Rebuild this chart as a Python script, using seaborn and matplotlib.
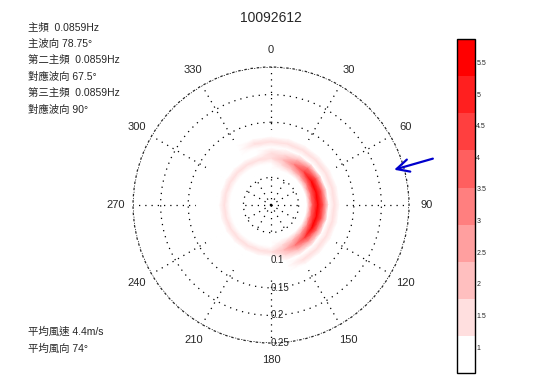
import numpy as np
import matplotlib
matplotlib.use("Agg")
import matplotlib.pyplot as plt
from matplotlib.colors import ListedColormap, Normalize
import seaborn as sns

# wave spectrum (colorbar units)
directions = [0, 15, 30, 45, 60, 75, 90, 105, 120, 135, 150, 165,
              180, 195, 210, 225, 240, 255, 270, 285, 300, 315, 330, 345]
freqs = [0.055, 0.065, 0.075, 0.085, 0.095, 0.105, 0.115, 0.125, 0.135]
energy = [
    [0.3, 0.6, 1.0, 1.7, 1.2, 0.9, 1.5, 0.8, 0.3],
    [0.3, 0.6, 1.3, 2.2, 1.5, 1.0, 1.6, 0.8, 0.3],
    [0.3, 0.7, 1.9, 3.2, 2.2, 1.0, 1.6, 0.8, 0.3],
    [0.3, 0.9, 2.8, 4.6, 3.0, 1.0, 1.6, 0.8, 0.3],
    [0.3, 1.0, 3.5, 5.6, 3.6, 1.0, 1.6, 0.8, 0.3],
    [0.3, 1.1, 3.8, 5.9, 3.9, 1.0, 1.6, 0.8, 0.3],
    [0.3, 1.1, 3.8, 5.9, 3.9, 1.0, 1.6, 0.8, 0.3],
    [0.3, 1.1, 3.7, 5.8, 3.7, 1.0, 1.6, 0.8, 0.3],
    [0.3, 1.0, 3.3, 5.3, 3.3, 1.0, 1.5, 0.8, 0.3],
    [0.3, 0.9, 2.6, 4.3, 2.6, 0.9, 1.4, 0.7, 0.3],
    [0.3, 0.8, 1.9, 3.2, 1.9, 0.9, 1.2, 0.6, 0.3],
    [0.3, 0.7, 1.4, 2.1, 1.4, 0.8, 1.0, 0.5, 0.3],
    [0.3, 0.6, 1.0, 1.4, 1.0, 0.6, 0.7, 0.4, 0.3],
    [0.3, 0.5, 0.9, 1.2, 0.9, 0.5, 0.5, 0.4, 0.3],
    [0.3, 0.5, 0.9, 1.2, 0.9, 0.5, 0.5, 0.4, 0.3],
    [0.3, 0.5, 0.9, 1.2, 0.9, 0.5, 0.5, 0.4, 0.3],
    [0.3, 0.5, 0.9, 1.2, 0.9, 0.5, 0.5, 0.4, 0.3],
    [0.3, 0.5, 0.9, 1.2, 0.9, 0.5, 0.5, 0.4, 0.3],
    [0.3, 0.5, 0.9, 1.2, 0.9, 0.5, 0.5, 0.4, 0.3],
    [0.3, 0.5, 0.9, 1.2, 0.9, 0.5, 0.5, 0.4, 0.3],
    [0.3, 0.5, 0.9, 1.2, 0.9, 0.5, 0.5, 0.4, 0.3],
    [0.3, 0.5, 0.9, 1.2, 0.9, 0.5, 0.5, 0.4, 0.3],
    [0.3, 0.5, 0.9, 1.3, 1.0, 0.7, 1.1, 0.6, 0.3],
    [0.3, 0.6, 1.0, 1.5, 1.1, 0.8, 1.3, 0.7, 0.3],
]

title = "10092612"
info_lines = ["主頻  0.0859Hz", "主波向 78.75°", "第二主頻  0.0859Hz",
              "對應波向 67.5°", "第三主頻  0.0859Hz", "對應波向 90°"]
wind_lines = ["平均風速 4.4m/s", "平均風向 74°"]
wind_dir = 74
theta_ticks = list(range(0, 360, 30))
r_ticks = [0.05, 0.1, 0.15, 0.2, 0.25]
r_labels = ["", "0.1", "0.15", "0.2", "0.25"]
cbar_ticks = [1, 1.5, 2, 2.5, 3, 3.5, 4, 4.5, 5, 5.5]
vmin, vmax = 0.59, 5.87

sns.set_style("white")
plt.rcParams["font.family"] = ["Liberation Sans", "Noto Sans CJK TC", "DejaVu Sans"]

fig = plt.figure(figsize=(5.33, 3.82), dpi=100)
ax = fig.add_axes([0.2495, 0.102, 0.518, 0.7225], projection="polar")
ax.set_theta_zero_location("N")
ax.set_theta_direction(-1)

# close the ring so the mesh wraps around
th = np.deg2rad(directions + [360])
E = np.array(energy + [energy[0]])
T, R = np.meshgrid(th, freqs, indexing="ij")
cmap = ListedColormap(sns.blend_palette(["white", "red"], 9))
mesh = ax.pcolormesh(T, R, E, cmap=cmap, norm=Normalize(vmin, vmax),
                     shading="gouraud")

ax.set_ylim(0, 0.25)
ax.set_yticks(r_ticks)
ax.set_yticklabels([])
for r, lab in zip(r_ticks, r_labels):
    ax.text(np.pi, r, lab, ha="left", va="center", fontsize=7)
ax.set_thetagrids(theta_ticks, [str(t) for t in theta_ticks], fontsize=8)
ax.tick_params(axis="x", pad=2)
ax.grid(True, color="k", linestyle=(0, (1, 4)), linewidth=0.9)
ax.spines["polar"].set_linestyle((0, (1, 4)))
ax.spines["polar"].set_linewidth(0.9)

ax.annotate("", xy=(np.deg2rad(wind_dir), 0.227),
            xytext=(np.deg2rad(wind_dir), 0.31),
            arrowprops=dict(arrowstyle="->,head_length=0.9,head_width=0.45",
                            color="#0000cc", lw=1.6),
            annotation_clip=False)

fig.text(0.508, 0.953, title, ha="center", va="center", fontsize=10)
for i, line in enumerate(info_lines):
    fig.text(0.052, 0.929 - i * 0.0432, line, ha="left", va="center", fontsize=7.5)
for i, line in enumerate(wind_lines):
    fig.text(0.052, 0.131 - i * 0.0445, line, ha="left", va="center", fontsize=7.5)

cax = fig.add_axes([0.857, 0.0236, 0.034, 0.874])
cb = fig.colorbar(mesh, cax=cax, ticks=cbar_ticks)
cb.ax.set_yticklabels([f"{t:g}" for t in cbar_ticks])
cb.ax.tick_params(direction="in", length=3, left=True, right=True,
                  labelsize=5, pad=1)
cb.outline.set_linewidth(1)
cb.outline.set_edgecolor("k")

fig.savefig("out.png", dpi=100)
